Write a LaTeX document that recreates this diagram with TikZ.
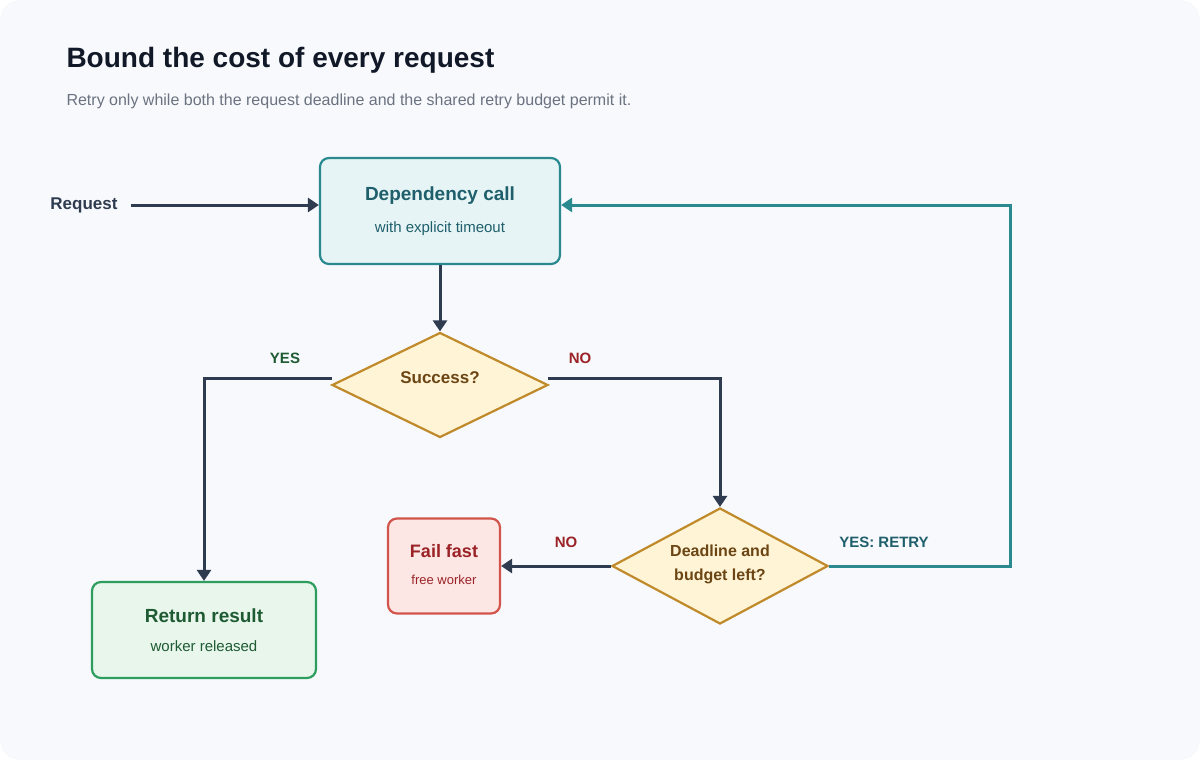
\documentclass[tikz,border=0pt]{standalone}
\usepackage{fontspec}
\setmainfont{Liberation Sans}
\usetikzlibrary{arrows.meta,shapes.geometric}
\definecolor{bg}{HTML}{F7F9FC}
\definecolor{ink}{HTML}{111827}
\definecolor{sub}{HTML}{6B7280}
\definecolor{arr}{HTML}{2F3B4F}
\definecolor{teal}{HTML}{2A8A8F}
\definecolor{tealtx}{HTML}{1F5F6B}
\definecolor{tealbg}{HTML}{E6F4F5}
\definecolor{gold}{HTML}{C08A2A}
\definecolor{goldbg}{HTML}{FFF4D6}
\definecolor{goldtx}{HTML}{6B4513}
\definecolor{grn}{HTML}{2E9E5E}
\definecolor{grnbg}{HTML}{E8F6EC}
\definecolor{grntx}{HTML}{1E5B33}
\definecolor{red}{HTML}{D2544A}
\definecolor{redbg}{HTML}{FDE7E4}
\definecolor{redtx}{HTML}{9B2226}
\begin{document}
\begin{tikzpicture}[x=1pt,y=-1pt,
 box/.style={draw,line width=2.2pt,rounded corners=9pt,inner sep=0pt},
 dia/.style={draw=gold,fill=goldbg,line width=2.2pt,diamond,inner sep=0pt},
 con/.style={draw=arr,line width=3pt,-{Triangle[length=11pt,width=14pt]}},
 lab/.style={font=\fontsize{15}{18}\selectfont\bfseries},
 t1/.style={font=\fontsize{19}{22}\selectfont\bfseries},
 t2/.style={font=\fontsize{15}{18}\selectfont}]
\useasboundingbox (0,0) rectangle (1200,760);
\fill[bg,rounded corners=20pt] (0,0) rectangle (1200,760);
\node[anchor=west,text=ink,font=\fontsize{28}{32}\selectfont\bfseries] (title) at (63,60) {Bound the cost of every request};
\node[anchor=west,text=sub,font=\fontsize{16}{19}\selectfont] (subt) at (63,101) {Retry only while both the request deadline and the shared retry budget permit it.};
\node[lab,text=arr,font=\fontsize{17}{20}\selectfont\bfseries] (req) at (84,205) {Request};
\node[box,draw=teal,fill=tealbg,minimum width=240pt,minimum height=106pt] (dep) at (440,211) {};
\node[t1,text=tealtx] (dept) at (440,196) {Dependency call};
\node[t2,text=tealtx] (deps) at (440,229) {with explicit timeout};
\node[dia,minimum width=216pt,minimum height=105pt] (succ) at (440,385) {};
\node[t1,text=goldtx,font=\fontsize{17}{20}\selectfont\bfseries] at (440,378) {Success?};
\node[box,draw=grn,fill=grnbg,minimum width=224pt,minimum height=96pt] (ret) at (204,630) {};
\node[t1,text=grntx] at (204,616) {Return result};
\node[t2,text=grntx] at (204,646) {worker released};
\node[dia,minimum width=216pt,minimum height=116pt] (dl) at (720,566) {};
\node[text=goldtx,font=\fontsize{16}{24}\selectfont\bfseries,align=center] at (720,564) {Deadline and\\budget left?};
\node[box,draw=red,fill=redbg,minimum width=112pt,minimum height=95pt] (ff) at (444,566) {};
\node[t1,text=redtx,font=\fontsize{18}{21}\selectfont\bfseries] at (444,551) {Fail fast};
\node[text=redtx,font=\fontsize{13}{16}\selectfont] at (444,580) {free worker};
\coordinate (succL) at (332,378);
\coordinate (succR) at (548,378);
\draw[con] (req.east)+(10,0) -- (dep.west |- req);
\draw[con] (dep.south) -- (succ.north);
\draw[con] (succL) -| (ret.north);
\draw[con] (succR) -| (dl.north);
\draw[con] (dl.west) -- (ff.east);
\draw[con,draw=teal] (dl.east) -- (1010,566) |- (dep.east |- req);
\node[lab,text=grntx] at (285,358) {YES};
\node[lab,text=redtx] at (580,358) {NO};
\node[lab,text=redtx] at (566,542) {NO};
\node[lab,text=tealtx] at (884,542) {YES: RETRY};
\end{tikzpicture}
\end{document}
